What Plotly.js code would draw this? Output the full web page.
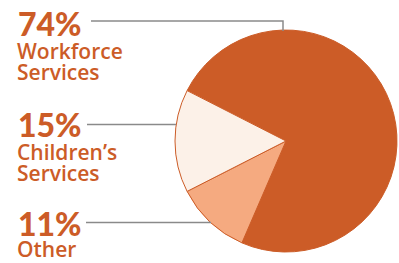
<!DOCTYPE html>
<html><head><meta charset="utf-8">
<script src="https://cdn.plot.ly/plotly-3.0.1.min.js"></script>
<style>html,body{margin:0;padding:0;background:#fff}#chart{width:399px;height:263px}</style>
</head><body><div id="chart"></div>
<script>
// Data
const categories = ['Workforce Services', 'Other', "Children’s Services"];
const values = [74, 11, 15];
const colors = ['#CC5C27', '#F5AA80', '#FCF1E8'];
// Label lines (left-hand callouts), in top-to-bottom order
const calloutPct = ['74%', '15%', '11%'];
const calloutLines = [['Workforce', 'Services'], ['Children’s', 'Services'], ['Other']];

const W = 399, H = 263;
const px = x => x / W, py = y => 1 - y / H;

// Layout positions (pixels)
const pctY = [23.5, 124, 223.5];
const lineY = [[50.5, 72.5], [152, 172.5], [248.5]];
const textX = 17;
const orange = '#CC5C27';

const annotations = [];
calloutPct.forEach((t, i) => {
  annotations.push({text: t, x: px(textX), y: py(pctY[i]), xref: 'paper', yref: 'paper',
    xanchor: 'left', yanchor: 'middle', showarrow: false, borderpad: 0,
    font: {family: 'Lato', size: 32, color: orange, weight: 900}});
  calloutLines[i].forEach((l, j) => {
    annotations.push({text: l, x: px(textX - 1), y: py(lineY[i][j]), xref: 'paper', yref: 'paper',
      xanchor: 'left', yanchor: 'middle', showarrow: false, borderpad: 0,
      font: {family: 'Open Sans', size: 21, color: orange, weight: 600}});
  });
});

const lc = {color: '#8a8a8a', width: 1.5};
const shapes = [
  {type: 'path', xref: 'paper', yref: 'paper', line: lc,
   path: `M ${px(91)} ${py(21)} L ${px(283)} ${py(21)} L ${px(283)} ${py(31)}`},
  {type: 'line', xref: 'paper', yref: 'paper', line: lc, x0: px(87), x1: px(176), y0: py(124.5), y1: py(124.5)},
  {type: 'line', xref: 'paper', yref: 'paper', line: lc, x0: px(86), x1: px(211), y0: py(222.5), y1: py(222.5)}
];

const cx = 286, cy = 141, r = 111;
Plotly.newPlot('chart', [{
  type: 'pie', labels: categories, values: values, sort: false, direction: 'clockwise',
  rotation: -63, textinfo: 'none', hoverinfo: 'none', showlegend: false,
  marker: {colors: colors, line: {color: '#CC5C27', width: 1}},
  domain: {x: [px(cx - r), px(cx + r)], y: [py(cy + r), py(cy - r)]}
}], {
  width: W, height: H, margin: {l: 0, r: 0, t: 0, b: 0},
  paper_bgcolor: '#fff', plot_bgcolor: '#fff',
  annotations: annotations, shapes: shapes
}, {staticPlot: true});
</script></body></html>
